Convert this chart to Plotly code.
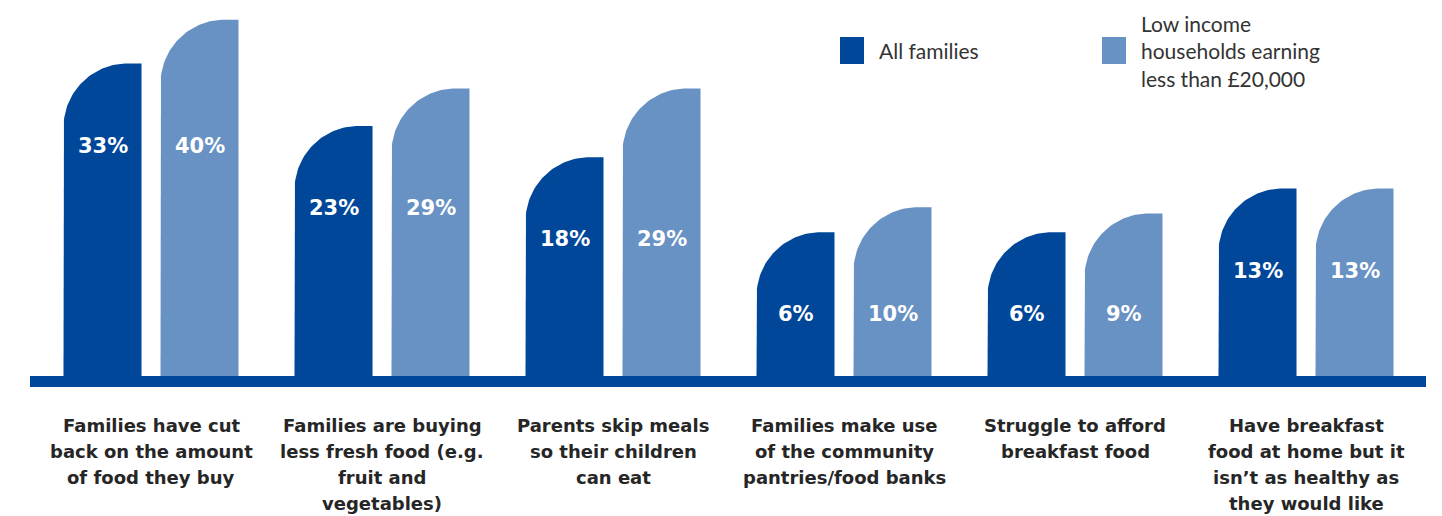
import numpy as np
import plotly.graph_objects as go

categories = [
    "Families have cut<br>back on the amount<br>of food they buy",
    "Families are buying<br>less fresh food (e.g.<br>fruit and<br>vegetables)",
    "Parents skip meals<br>so their children<br>can eat",
    "Families make use<br>of the community<br>pantries/food banks",
    "Struggle to afford<br>breakfast food",
    "Have breakfast<br>food at home but it<br>isn’t as healthy as<br>they would like",
]
all_families = [33, 23, 18, 6, 6, 13]
low_income = [40, 29, 29, 10, 9, 13]
series_names = ["All families", "Low income<br>households earning<br>less than £20,000"]

DARK = "#00479A"
LIGHT = "#6891C4"
TEXT = "#262626"

W, H = 1442, 516
ML, MR, MT, MB = 30, 16, 0, 140
PW, PH = W - ML - MR, H - MT - MB
X0, X1 = -0.52381, 5.51948
Y0 = -17.0
PX_PER_Y = 6.25
Y1 = Y0 + PH / PX_PER_Y
PX_PER_X = PW / (X1 - X0)

BAR_W = 78 / PX_PER_X
OFFSET = 48.5 / PX_PER_X
R_PX = 64
rx, ry = R_PX / PX_PER_X, R_PX / PX_PER_Y


def bar_path(xc, v):
    xl, xr = xc - BAR_W / 2, xc + BAR_W / 2
    th = np.linspace(np.pi, np.pi / 2, 40)
    cx, cy = xl + rx, v - ry
    xs = [xl, xl] + list(cx + rx * np.cos(th)) + [xr, xr, xl]
    ys = [Y0, cy] + list(cy + ry * np.sin(th)) + [v, Y0, Y0]
    return xs, ys


fig = go.Figure()
for vals, off, col in [(all_families, -OFFSET, DARK), (low_income, OFFSET, LIGHT)]:
    for i, v in enumerate(vals):
        xs, ys = bar_path(i + off, v)
        fig.add_trace(go.Scatter(x=xs, y=ys, fill="toself", fillcolor=col,
                                 mode="lines", line=dict(width=0, color=col),
                                 hoverinfo="skip", showlegend=False))

annotations = []
LINE_H = 26
for i, (a, b) in enumerate(zip(all_families, low_income)):
    ly = a - 82 / PX_PER_Y
    for v, off in [(a, -OFFSET), (b, OFFSET)]:
        annotations.append(dict(x=i + off, y=ly, xref="x", yref="y", text=f"<b>{v}%</b>",
                                showarrow=False,
                                font=dict(family="DejaVu Sans", size=21, color="white")))
    for k, line in enumerate(categories[i].split("<br>")):
        cy_px = 425 + k * LINE_H
        annotations.append(dict(x=i, y=(PH - cy_px) / PH, xref="x", yref="paper",
                                yanchor="middle", text=f"<b>{line}</b>",
                                showarrow=False, align="center",
                                font=dict(family="DejaVu Sans", size=18, color=TEXT)))

shapes = []
legend_items = [(840, DARK, series_names[0]), (1102, LIGHT, series_names[1])]
for sx, col, name in legend_items:
    shapes.append(dict(type="rect", xref="paper", yref="paper",
                       x0=(sx - ML) / PW, x1=(sx + 24 - ML) / PW,
                       y0=(PH - 64) / PH, y1=(PH - 37) / PH,
                       fillcolor=col, line=dict(width=0)))
    annotations.append(dict(x=(sx + 37 - ML) / PW, y=(PH - 51) / PH, xref="paper", yref="paper",
                            xanchor="left", yanchor="middle", text=name, align="left",
                            showarrow=False, font=dict(family="Lato", size=21, color="#333333")))

fig.update_layout(
    width=W, height=H,
    margin=dict(l=ML, r=MR, t=MT, b=MB),
    paper_bgcolor="white", plot_bgcolor="white",
    xaxis=dict(range=[X0, X1], showgrid=False, zeroline=False, showticklabels=False,
               ticks="", showline=True, linewidth=11, linecolor=DARK, fixedrange=True),
    yaxis=dict(range=[Y0, Y1], visible=False, fixedrange=True),
    annotations=annotations,
    shapes=shapes,
    showlegend=False,
)

fig.write_html("out.html")
